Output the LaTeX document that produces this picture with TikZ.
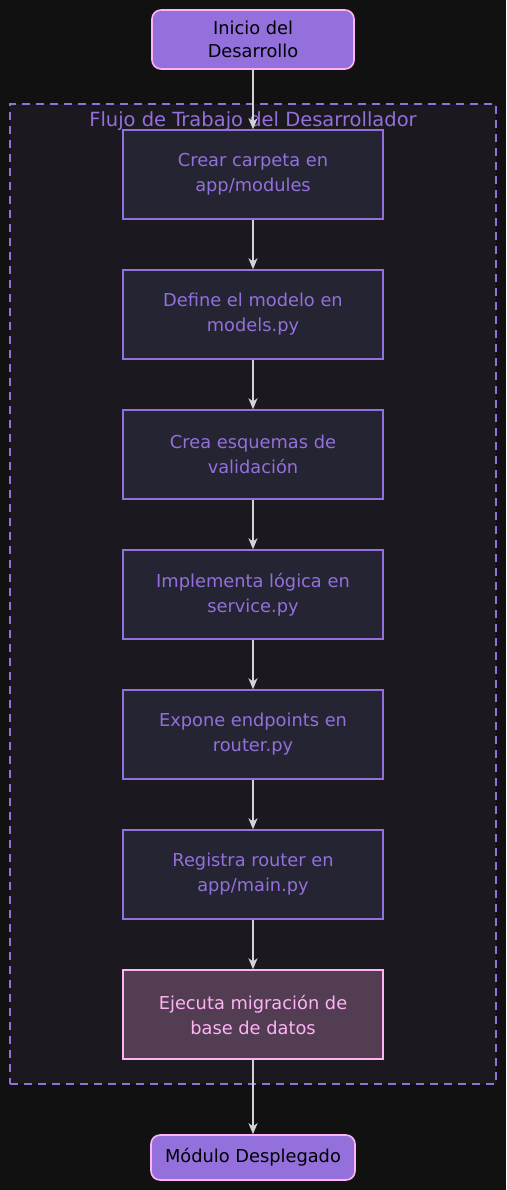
\documentclass[tikz,border=0pt]{standalone}
\usepackage{fontspec}
\setmainfont{DejaVu Sans}
\usetikzlibrary{arrows.meta}
\definecolor{bgc}{HTML}{111111}
\definecolor{clusterfill}{HTML}{1B1820}
\definecolor{boxfill}{HTML}{252433}
\definecolor{mpurple}{HTML}{9370DB}
\definecolor{pinkb}{HTML}{FFB3F5}
\definecolor{migfill}{HTML}{523D52}
\definecolor{arrowc}{HTML}{D3D3D3}
\begin{document}
\begin{tikzpicture}[x=1pt,y=-1pt,
  stepbox/.style={draw=mpurple, line width=1.4pt, fill=boxfill, text=mpurple,
    minimum width=260pt, minimum height=89pt, align=center, inner sep=0pt,
    font=\fontsize{17.8}{25}\selectfont},
  migbox/.style={stepbox, draw=pinkb, fill=migfill, text=pinkb},
  termbox/.style={draw=pinkb, line width=1.6pt, fill=mpurple, text=black,
    rounded corners=9pt, align=center, inner sep=0pt,
    font=\fontsize{17.8}{23}\selectfont},
  flow/.style={draw=arrowc, line width=1.6pt, -{Stealth[length=11pt,width=9pt,inset=3pt]}}]
\fill[bgc] (0,0) rectangle (506,1190);
\useasboundingbox (0,0) rectangle (506,1190);
% cluster
\node[draw=mpurple, dashed, dash pattern=on 8pt off 6pt, line width=1.4pt, fill=clusterfill,
  minimum width=486pt, minimum height=980pt, inner sep=0pt] (cluster) at (253,594) {};
\node[text=mpurple, font=\fontsize{19.5}{20}\selectfont, inner sep=0pt] (clabel) at (253,121) {Flujo de Trabajo del Desarrollador};
% terminals
\node[termbox, minimum width=202pt, minimum height=59pt] (start) at (253,39.5) {Inicio del\\Desarrollo};
\node[termbox, minimum width=204pt, minimum height=45pt] (end) at (253,1157.5) {Módulo Desplegado};
% steps
\node[stepbox] (s1) at (253,174.5) {Crear carpeta en\\app/modules};
\node[stepbox] (s2) at (253,314.5) {Define el modelo en\\models.py};
\node[stepbox] (s3) at (253,454.5) {Crea esquemas de\\validación};
\node[stepbox] (s4) at (253,594.5) {Implementa lógica en\\service.py};
\node[stepbox] (s5) at (253,734.5) {Expone endpoints en\\router.py};
\node[stepbox] (s6) at (253,874.5) {Registra router en\\app/main.py};
\node[migbox] (s7) at (253,1014.5) {Ejecuta migración de\\base de datos};
% arrows
\draw[flow] (start.south) -- (s1.north);
\draw[flow] (s1.south) -- (s2.north);
\draw[flow] (s2.south) -- (s3.north);
\draw[flow] (s3.south) -- (s4.north);
\draw[flow] (s4.south) -- (s5.north);
\draw[flow] (s5.south) -- (s6.north);
\draw[flow] (s6.south) -- (s7.north);
\draw[flow] (s7.south) -- (end.north);
\end{tikzpicture}
\end{document}
